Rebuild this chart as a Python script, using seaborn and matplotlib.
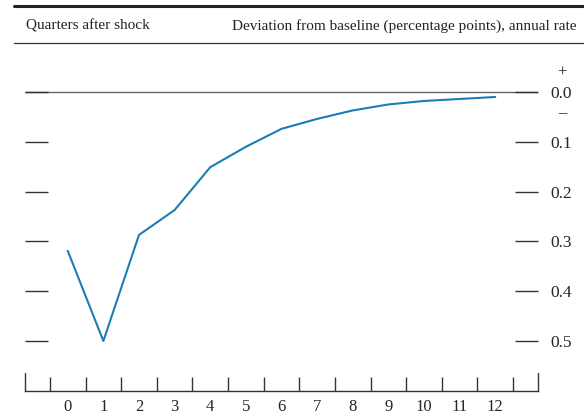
import numpy as np
import pandas as pd
import matplotlib.pyplot as plt
import matplotlib.transforms as mtransforms
import seaborn as sns

# Data
quarters = list(range(13))
deviation = [0.319, 0.500, 0.287, 0.237, 0.151, 0.110, 0.074,
             0.054, 0.037, 0.025, 0.018, 0.014, 0.010]
y_ticks = [0.0, 0.1, 0.2, 0.3, 0.4, 0.5]
y_tick_labels = ['0.0', '0.1', '0.2', '0.3', '0.4', '0.5']

df = pd.DataFrame({'quarter': quarters, 'deviation': deviation})

sns.set_style('white')
plt.rcParams['font.family'] = ['Liberation Serif', 'DejaVu Serif']

fig = plt.figure(figsize=(5.84, 4.18), dpi=100)
W, H = 584, 418
# axes box in pixels: left 25, right 538, top 55, bottom 391
ax = fig.add_axes([25 / W, (H - 391) / H, (538 - 25) / W, (391 - 55) / H])

sns.lineplot(data=df, x='quarter', y='deviation', ax=ax,
             color='#1a7db4', linewidth=1.5)

# limits: 0.0 at y=92 px, 0.5 at y=341 px
ppu = (341 - 92) / 0.5
ax.set_ylim((391 - 92) / ppu, -(92 - 55) / ppu)
ax.set_xlim(-1.2, 13.2)

# zero line (under the tick marks)
ax.axhline(0, color='#666666', linewidth=1.0, zorder=0.3)

# spines
for s in ['top', 'left', 'right']:
    ax.spines[s].set_visible(False)
ax.spines['bottom'].set_color('#333333')
ax.spines['bottom'].set_linewidth(1.0)

# y ticks: inside marks on both sides, labels on the right
ax.set_yticks(y_ticks)
ax.set_yticklabels(y_tick_labels)
ax.tick_params(axis='y', which='major', direction='in', length=16.5,
               width=1.0, color='#333333', left=True, right=True,
               labelleft=False, labelright=True, pad=9, labelsize=12.5)

# x ticks: labels at quarters, marks between quarters
ax.set_xticks(quarters)
ax.set_xticks(np.arange(-0.5, 13, 1.0), minor=True)
ax.tick_params(axis='x', which='major', length=0, pad=6, labelsize=12)
ax.tick_params(axis='x', which='minor', direction='in', length=10,
               width=1.0, color='#333333', bottom=True)
# taller end marks
for xe in ax.get_xlim():
    ax.axvline(xe, ymin=0, ymax=18 / 336, color='#333333', linewidth=1.0,
               clip_on=False)

ax.set_xlabel('')
ax.set_ylabel('')
ax.grid(False)

# plus / minus signs around zero
tr = mtransforms.blended_transform_factory(ax.transAxes, ax.transData)
xs = 1 + (562 - 538) / 513
ax.text(xs, -(92 - 73) / ppu, '+', transform=tr, ha='center', va='center',
        fontsize=12, color='#222222')
ax.text(xs, (113 - 92) / ppu, '\u2013', transform=tr, ha='center',
        va='center', fontsize=12, color='#222222')

# header
fig.add_artist(plt.Line2D([14 / W, 1], [1 - 6 / H, 1 - 6 / H],
                          color='#222222', linewidth=2.2))
fig.add_artist(plt.Line2D([14 / W, 1], [1 - 43 / H, 1 - 43 / H],
                          color='#333333', linewidth=0.9))
fig.text(26 / W, 1 - 26 / H, 'Quarters after shock', ha='left',
         va='center', fontsize=11, color='#222222')
fig.text(577 / W, 1 - 26 / H,
         'Deviation from baseline (percentage points), annual rate',
         ha='right', va='center', fontsize=11, color='#222222')

plt.savefig('out.png', dpi=100)
